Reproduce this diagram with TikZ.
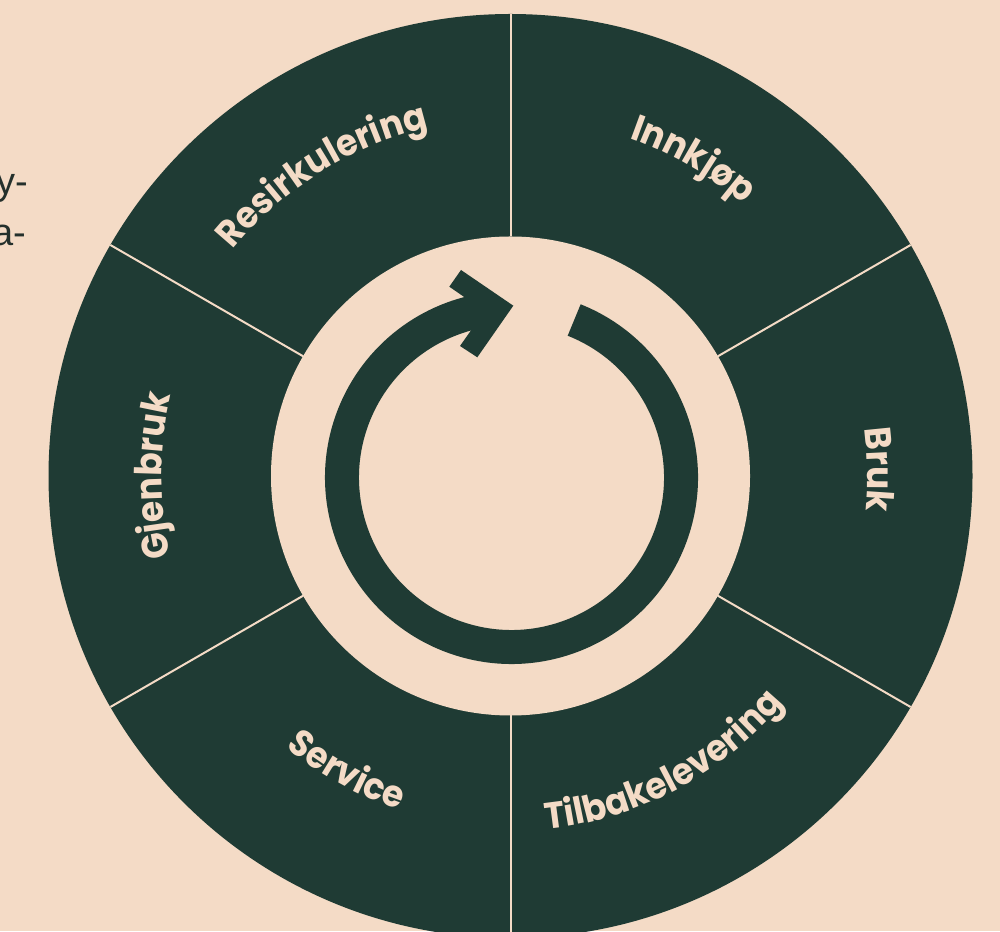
\documentclass[tikz,border=0pt]{standalone}
\usepackage{fontspec}
\setmainfont{Poppins}
\newfontfamily\lblfont{Poppins Bold}[FakeStretch=0.93]
\newfontfamily\sidefont{Liberation Sans}
\usetikzlibrary{decorations.text}
\definecolor{peach}{HTML}{F4DBC6}
\definecolor{forest}{HTML}{1F3B34}
\definecolor{inkdark}{HTML}{24302C}
\newcommand{\lblfmt}{\lblfont\fontsize{37}{44}\selectfont\color{peach}}
\begin{document}
\begin{tikzpicture}[x=1pt,y=1pt,
  divider/.style={draw=peach, line width=2pt},
  ringshaft/.style={draw=forest, line width=34pt},
  sidetext/.style={anchor=base east, inner sep=0pt, text=inkdark, font=\sidefont\fontsize{38}{44}\selectfont}]
\useasboundingbox (0,0) rectangle (1000,931);
\clip (0,0) rectangle (1000,931);
\fill[peach] (0,0) rectangle (1000,931);
\coordinate (C) at (510.5,455);
\coordinate (R) at (511.5,453.5);
% wheel
\fill[forest] (C) circle[radius=462];
\fill[peach] (C) circle[radius=239.5];
\foreach \a in {90,30,-30,-90,-150,150}
  \draw[divider] ([shift={(\a:239.5)}]C) -- ([shift={(\a:462)}]C);
% cycle arrow
\draw[ringshaft] ([shift={(68.3:169.5)}]R) arc[start angle=68.3, end angle=-263, radius=169.5];
\fill[forest] (449.3,644.3) -- (461,661) -- (513.3,625.3) -- (477.3,573.7) -- (460,585) -- (484.6,619.9) -- cycle;
% labels (top half: clockwise, bottom half: counter-clockwise)
\path[decorate, decoration={text along path, text align=center, text={|\lblfmt|Resirkulering}}]
  ([shift={(162:358)}]C) arc[start angle=162, end angle=82, radius=358];
\path[decorate, decoration={text along path, text align=center, text={|\lblfmt|Innkjøp}}]
  ([shift={(100:358)}]C) arc[start angle=100, end angle=20, radius=358];
\path[decorate, decoration={text along path, text align=center, text={|\lblfmt|Bruk}}]
  ([shift={(41:357)}]C) arc[start angle=41, end angle=-39, radius=357];
\path[decorate, decoration={text along path, text align=center, text={|\lblfmt|Gjenbruk}}]
  ([shift={(220:349)}]C) arc[start angle=220, end angle=140, radius=349];
\path[decorate, decoration={text along path, text align=center, text={|\lblfmt|Tilbakelevering}}]
  ([shift={(-107:355)}]C) arc[start angle=-107, end angle=-17, radius=355];
\path[decorate, decoration={text along path, text align=center, text={|\lblfmt|Service}}]
  ([shift={(-159:352)}]C) arc[start angle=-159, end angle=-79, radius=352];
% cut-off side text
\node[sidetext] (ytail) at (28.5,736) {y-};
\node[sidetext] (atail) at (26.7,685) {a-};
\end{tikzpicture}
\end{document}
